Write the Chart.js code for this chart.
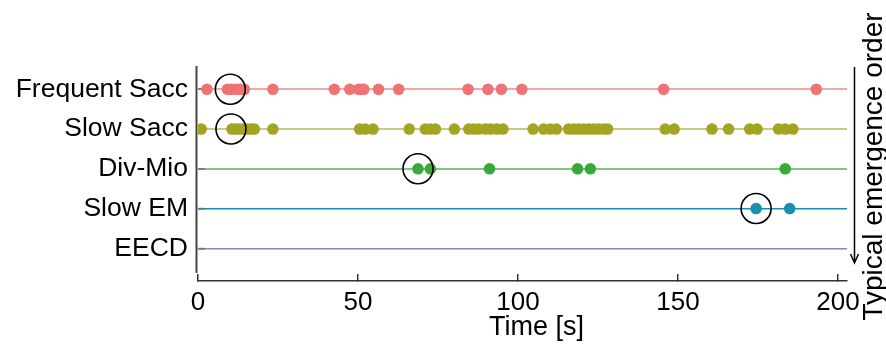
<!DOCTYPE html>
<html>
<head>
<meta charset="utf-8">
<script src="https://cdn.jsdelivr.net/npm/chart.js@4"></script>
<style>
  html, body { margin: 0; padding: 0; background: #fff; }
  canvas { display: block; }
</style>
</head>
<body>
<canvas id="emergenceChart" width="886" height="349"></canvas>
<script>
// rows, top to bottom
const categories = ['Frequent Sacc', 'Slow Sacc', 'Div-Mio', 'Slow EM', 'EECD'];

// event times [s] for each row
const frequentSaccTimes = [2.8, 9.2, 10.4, 12.0, 13.2, 14.5, 23.4, 42.6, 47.4, 50.2, 51.1, 51.8, 56.4, 62.7,
    84.4, 90.6, 94.8, 101.2, 145.5, 193.2];
const slowSaccTimes = [1.0, 10.6, 11.7, 12.9, 14.2, 15.4, 16.7, 17.6, 23.4, 50.5, 52.3, 54.7, 66.0, 71.0, 72.6,
    74.2, 80.1, 84.6, 86.1, 87.7, 89.8, 91.4, 93.4, 95.3, 104.7, 108.0, 110.1, 112.0, 115.8, 117.4, 119.0,
    120.5, 122.1, 123.7, 125.2, 126.8, 128.0, 146.0, 148.8, 160.6, 165.8, 172.4, 174.7, 181.4, 183.5, 185.9];
const divMioTimes = [68.75, 72.6, 91.1, 118.6, 122.6, 183.5];
const slowEmTimes = [174.4, 184.9];
const eecdTimes = [];

// first event of each type gets a ring
const circledRows = ['Frequent Sacc', 'Slow Sacc', 'Div-Mio', 'Slow EM'];
const circledTimes = [10.1, 10.3, 68.75, 174.4];

const xTicks = [0, 50, 100, 150, 200];

const dotColors = ['#ef7373', '#a3a41f', '#37aa37', '#1890ae', '#7f86cc'];
const lineColors = ['#f4a7a7', '#c8c887', '#80c680', '#1890ae', '#7f86cc'];
const lineWidths = [2, 2, 2, 1.5, 1.5];

const FONT = '"Liberation Sans", Arial, sans-serif';

// row value on the y scale (top row = highest value)
function rowValue(name) {
    return categories.length - 1 - categories.indexOf(name);
}

const allTimes = [frequentSaccTimes, slowSaccTimes, divMioTimes, slowEmTimes, eecdTimes];

const datasets = categories.map((name, i) => ({
    label: name,
    data: allTimes[i].map(t => ({ x: t, y: rowValue(name) })),
    pointRadius: 5.8,
    pointBackgroundColor: dotColors[i],
    pointBorderWidth: 0,
    showLine: false,
    order: 1
}));

datasets.push({
    label: 'first',
    data: circledTimes.map((t, i) => ({ x: t, y: rowValue(circledRows[i]) })),
    pointRadius: 15,
    pointBackgroundColor: 'rgba(0,0,0,0)',
    pointBorderColor: '#000',
    pointBorderWidth: 1.6,
    showLine: false,
    clip: false,
    order: 0
});

// y axis line (stops short of the x axis), x title, and the emergence order note
const frameAndNote = {
    id: 'frameAndNote',
    afterDraw(chart) {
        const { ctx, chartArea } = chart;
        ctx.save();
        ctx.strokeStyle = '#444';
        ctx.lineWidth = 2;
        ctx.beginPath();
        ctx.moveTo(chartArea.left - 1.5, chartArea.top);
        ctx.lineTo(chartArea.left - 1.5, chartArea.bottom - 8);
        ctx.stroke();

        // x axis title, sits a bit right of centre in the original
        ctx.fillStyle = '#000';
        ctx.font = '27px ' + FONT;
        ctx.textAlign = 'center';
        ctx.textBaseline = 'alphabetic';
        ctx.fillText('Time [s]', (chartArea.left + chartArea.right) / 2 + 14, chartArea.bottom + 53.5);

        // arrow
        const ax = chartArea.right + 7.5;
        const top = chartArea.top + 1;
        const bottom = chartArea.bottom - 18;
        ctx.strokeStyle = '#000';
        ctx.lineWidth = 1.5;
        ctx.beginPath();
        ctx.moveTo(ax, top);
        ctx.lineTo(ax, bottom);
        ctx.moveTo(ax - 4, bottom - 9);
        ctx.lineTo(ax, bottom);
        ctx.lineTo(ax + 4, bottom - 9);
        ctx.stroke();

        // rotated text
        ctx.translate(882, 166.5);
        ctx.rotate(-Math.PI / 2);
        ctx.font = '28px ' + FONT;
        ctx.fillText('Typical emergence order', 0, 0);
        ctx.restore();
    }
};

const ctx = document.getElementById('emergenceChart').getContext('2d');
new Chart(ctx, {
    type: 'scatter',
    data: { datasets: datasets },
    options: {
        responsive: false,
        animation: false,
        layout: { padding: { top: 66, right: 39, left: 0, bottom: 0 } },
        plugins: {
            legend: { display: false },
            tooltip: { enabled: false }
        },
        scales: {
            x: {
                type: 'linear',
                position: 'bottom',
                min: 0,
                max: 202.8,
                afterBuildTicks: scale => { scale.ticks = xTicks.map(v => ({ value: v })); },
                afterFit: scale => { scale.height = 68; },
                border: { display: true, color: '#333', width: 1.5 },
                grid: {
                    drawOnChartArea: false,
                    drawTicks: true,
                    tickLength: -7,
                    color: '#333',
                    lineWidth: 1.5
                },
                ticks: {
                    padding: 13.5,
                    color: '#000',
                    font: { family: FONT, size: 26 }
                }
            },
            y: {
                type: 'linear',
                min: -0.823,
                max: 4.586,
                afterBuildTicks: scale => { scale.ticks = categories.map((_, i) => ({ value: i })); },
                afterFit: scale => { scale.width = 198; },
                border: { display: false },
                grid: {
                    color: c => lineColors[categories.length - 1 - c.tick.value],
                    lineWidth: c => lineWidths[categories.length - 1 - c.tick.value],
                    drawTicks: true,
                    tickLength: -7,
                    tickColor: 'rgba(110,110,110,0.75)',
                    tickWidth: 2
                },
                ticks: {
                    padding: 17,
                    color: '#000',
                    font: { family: FONT, size: 26.5 },
                    callback: value => categories[categories.length - 1 - value]
                }
            }
        }
    },
    plugins: [frameAndNote]
});
</script>
</body>
</html>
